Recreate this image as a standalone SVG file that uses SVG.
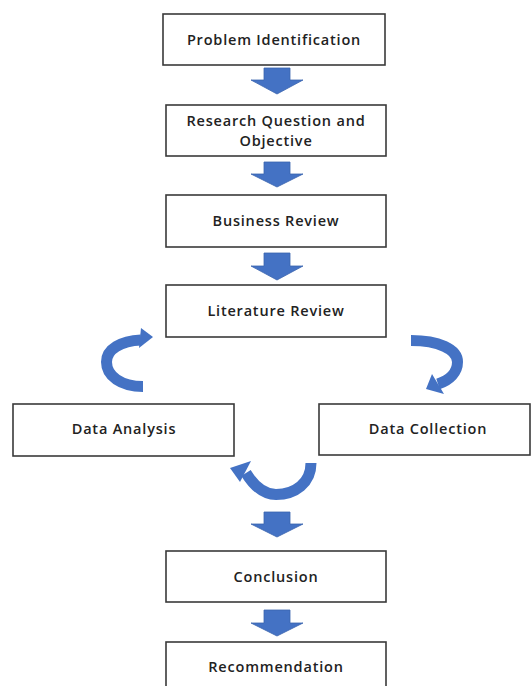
<svg xmlns="http://www.w3.org/2000/svg" width="531" height="686" viewBox="0 0 531 686">
<style>
.box{fill:#fff;stroke:#3a3a3a;stroke-width:1.6}
.lbl{font-family:"Open Sans","Liberation Sans",sans-serif;font-weight:600;font-size:14.5px;letter-spacing:0.8px;fill:#222;text-anchor:middle}
.blk{fill:#4472C4;stroke:#3B64AE;stroke-width:0.8}
.crv{fill:none;stroke:#4472C4;stroke-width:11}
</style>
<rect width="531" height="686" fill="#fff"/>
<g id="connectors">
<polygon class="blk" points="264,68 290,68 290,80 303,80 277,94 251,80 264,80"/>
<polygon class="blk" points="264,162 290,162 290,174 303,174 277,187 251,174 264,174"/>
<polygon class="blk" points="264,253 290,253 290,266 303,266 277,280 251,266 264,266"/>
<polygon class="blk" points="264,512 290,512 290,524 303,524 277,537 251,524 264,524"/>
<polygon class="blk" points="264,610 290,610 290,623 303,623 277,636 251,623 264,623"/>
<g id="loop-left">
<path class="crv" d="M143,386.5 C121,386.5 106.5,376 106.5,362 C106.5,349 121,341 141,340"/>
<polygon fill="#4472C4" points="141,328 153,337 139,348"/>
</g>
<g id="loop-right">
<path class="crv" d="M411,340.5 C438,340.5 457.5,349 457.5,362 C457.5,372 450,380 438,384"/>
<polygon fill="#4472C4" points="432,374 426,389 444,394"/>
</g>
<g id="loop-bottom">
<path class="crv" d="M311,463 C311,483 295,494.5 276,494.5 C263,494.5 254,486 246,473"/>
<polygon fill="#4472C4" points="251,461 230,468 240,482"/>
</g>
</g>
<g id="n1"><rect class="box" x="163" y="14" width="222" height="51"/><text class="lbl" x="274" y="45">Problem Identification</text></g>
<g id="n2"><rect class="box" x="166" y="105" width="220" height="51"/><text class="lbl"><tspan x="276" y="125.5">Research Question and</tspan><tspan x="276" y="145.5">Objective</tspan></text></g>
<g id="n3"><rect class="box" x="166" y="195" width="220" height="52"/><text class="lbl" x="276" y="226">Business Review</text></g>
<g id="n4"><rect class="box" x="166" y="285" width="220" height="52"/><text class="lbl" x="276" y="316">Literature Review</text></g>
<g id="n5"><rect class="box" x="13" y="404" width="221" height="52"/><text class="lbl" x="124" y="434">Data Analysis</text></g>
<g id="n6"><rect class="box" x="319" y="404" width="211" height="51"/><text class="lbl" x="428" y="434">Data Collection</text></g>
<g id="n7"><rect class="box" x="166" y="551" width="220" height="51"/><text class="lbl" x="276" y="582">Conclusion</text></g>
<g id="n8"><rect class="box" x="166" y="642" width="220" height="52"/><text class="lbl" x="276" y="672">Recommendation</text></g>
</svg>
